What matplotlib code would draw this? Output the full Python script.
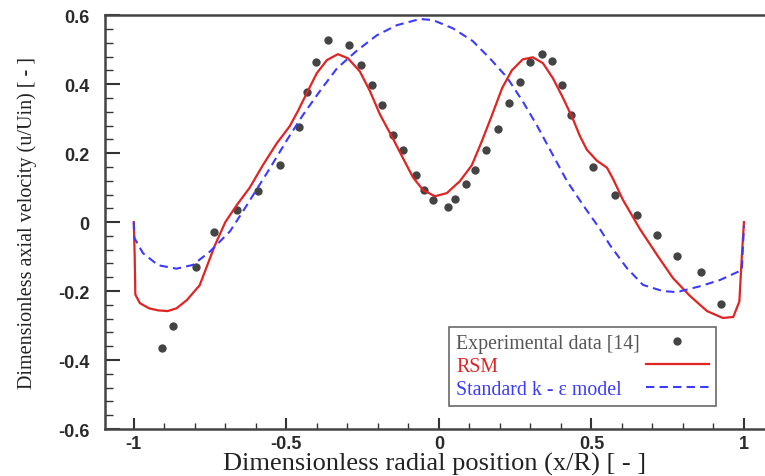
import numpy as np
import matplotlib
matplotlib.use('Agg')
import matplotlib.pyplot as plt
from matplotlib.ticker import MultipleLocator

# 实验数据 [14]
exp_x = [-0.908, -0.872, -0.797, -0.738, -0.662, -0.593, -0.521, -0.459, -0.433,
         -0.403, -0.364, -0.295, -0.256, -0.220, -0.187, -0.151, -0.118, -0.075,
         -0.049, -0.020, 0.030, 0.052, 0.089, 0.118, 0.153, 0.193, 0.231, 0.266,
         0.299, 0.338, 0.371, 0.403, 0.433, 0.505, 0.577, 0.649, 0.715, 0.780,
         0.859, 0.924]
exp_y = [-0.365, -0.300, -0.130, -0.028, 0.035, 0.090, 0.165, 0.275, 0.377,
         0.463, 0.527, 0.513, 0.455, 0.397, 0.339, 0.252, 0.210, 0.136,
         0.093, 0.064, 0.043, 0.067, 0.110, 0.151, 0.209, 0.270, 0.345, 0.406,
         0.463, 0.487, 0.467, 0.397, 0.310, 0.159, 0.078, 0.020, -0.038, -0.099,
         -0.145, -0.238]

# RSM
rsm_x = [-1.0, -0.997, -0.995, -0.98, -0.95, -0.92, -0.889, -0.86, -0.826, -0.784,
         -0.734, -0.70, -0.662, -0.62, -0.577, -0.531, -0.489, -0.462, -0.433, -0.40,
         -0.367, -0.331, -0.298, -0.259, -0.226, -0.193, -0.151, -0.118, -0.085, -0.052,
         -0.013, 0.026, 0.069, 0.108, 0.141, 0.174, 0.207, 0.239, 0.275, 0.308,
         0.341, 0.374, 0.407, 0.439, 0.462, 0.485, 0.518, 0.551, 0.571, 0.603,
         0.659, 0.715, 0.767, 0.823, 0.879, 0.931, 0.965, 0.985, 0.993, 1.0]
rsm_y = [0.0, -0.10, -0.21, -0.235, -0.25, -0.256, -0.258, -0.25, -0.226, -0.183,
         -0.067, 0.0, 0.05, 0.10, 0.165, 0.229, 0.278, 0.322, 0.374, 0.432,
         0.470, 0.487, 0.475, 0.437, 0.380, 0.312, 0.243, 0.186, 0.130, 0.093,
         0.075, 0.084, 0.119, 0.165, 0.235, 0.310, 0.388, 0.440, 0.472, 0.478,
         0.461, 0.417, 0.360, 0.300, 0.250, 0.210, 0.178, 0.158, 0.125, 0.065,
         -0.020, -0.095, -0.162, -0.214, -0.258, -0.278, -0.275, -0.230, -0.10, 0.0]

# Standard k-epsilon
ke_x = [-1.0, -0.998, -0.97, -0.92, -0.86, -0.806, -0.75, -0.685, -0.643, -0.554,
        -0.498, -0.446, -0.39, -0.334, -0.269, -0.203, -0.138, -0.062, -0.02, 0.046,
        0.111, 0.167, 0.223, 0.275, 0.321, 0.374, 0.420, 0.472, 0.528, 0.561,
        0.616, 0.669, 0.734, 0.780, 0.856, 0.921, 0.993, 1.0]
ke_y = [0.0, -0.046, -0.09, -0.125, -0.135, -0.124, -0.085, -0.027, 0.03, 0.156,
        0.238, 0.31, 0.38, 0.446, 0.497, 0.542, 0.571, 0.589, 0.586, 0.562,
        0.525, 0.475, 0.42, 0.35, 0.281, 0.194, 0.119, 0.05, -0.02, -0.067,
        -0.133, -0.182, -0.2, -0.203, -0.186, -0.168, -0.139, -0.01]

serif = ['Liberation Serif', 'DejaVu Serif']

fig = plt.figure(figsize=(7.65, 4.77), dpi=100)
ax = fig.add_axes([0.137, 0.0985, 0.863, 0.8675])

ax.plot(exp_x, exp_y, 'o', color='#444444', markersize=6, markeredgewidth=0,
        label='Experimental data [14]')
ax.plot(rsm_x, rsm_y, '-', color='#e02424', linewidth=1.6, label='RSM')
ax.plot(ke_x, ke_y, '--', color='#3b3bff', linewidth=1.5, dashes=(4, 2.5),
        label='Standard k - ε model')

ax.set_xlim(-1.095, 1.069)
ax.set_ylim(-0.6, 0.6)

ax.xaxis.set_major_locator(MultipleLocator(0.5))
ax.xaxis.set_minor_locator(MultipleLocator(0.1))
ax.yaxis.set_major_locator(MultipleLocator(0.2))
ax.yaxis.set_minor_locator(MultipleLocator(0.04))
ax.xaxis.set_major_formatter(plt.FuncFormatter(lambda v, p: f'{v:g}'))
ax.yaxis.set_major_formatter(plt.FuncFormatter(lambda v, p: f'{v:g}'))

ax.tick_params(axis='x', which='major', direction='in', length=8, width=1.5,
               color='#333333', pad=4)
ax.tick_params(axis='x', which='minor', direction='in', length=4, width=1,
               color='#333333')
ax.tick_params(axis='y', which='major', direction='in', length=11, width=1.5,
               color='#333333', pad=11)
ax.tick_params(axis='y', which='minor', direction='in', length=6, width=1,
               color='#333333')
for lab in ax.get_xticklabels() + ax.get_yticklabels():
    lab.set_fontfamily(['Liberation Sans', 'DejaVu Sans'])
    lab.set_fontweight('bold')
    lab.set_fontsize(13)
    lab.set_color('#2a2a2a')

for side in ['left', 'bottom', 'top']:
    ax.spines[side].set_linewidth(1.8)
    ax.spines[side].set_color('#444444')
ax.spines['right'].set_visible(False)

ax.set_xlabel('Dimensionless radial position (x/R) [ - ]', fontsize=19,
              family=serif, color='#222222', labelpad=0)
ax.set_ylabel('Dimensionless axial velocity (u/Uin) [ - ]', fontsize=14.5,
              family=serif, color='#222222')
ax.yaxis.set_label_coords(-0.103, 0.5)

leg_size = 14.3
leg = ax.legend(loc='lower right', bbox_to_anchor=(0.926, 0.056), borderaxespad=0,
                markerfirst=False, frameon=True, fancybox=False,
                edgecolor='#444444', prop={'family': serif, 'size': leg_size},
                handlelength=3.2, handletextpad=0.3, borderpad=0.35,
                labelspacing=0.2)
leg.get_frame().set_linewidth(1.2)
for txt, c in zip(leg.get_texts(), ['#555555', '#e02424', '#3b3bff']):
    txt.set_color(c)

# 文字左对齐、图例符号右对齐
fig.canvas.draw()
rows = leg._legend_handle_box.get_children()[0].get_children()
widths = [t.get_window_extent().width for t in leg.get_texts()]
base_sep = 0.3 * leg_size
for row, w in zip(rows, widths):
    row.sep = base_sep + (max(widths) - w) * 72.0 / fig.dpi

plt.savefig('out.png', dpi=100)
